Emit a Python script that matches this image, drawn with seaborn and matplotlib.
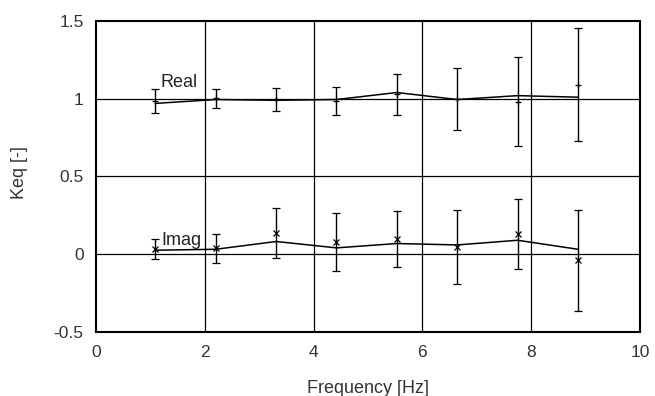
import numpy as np
import pandas as pd
import matplotlib
matplotlib.use("Agg")
import matplotlib.pyplot as plt
import seaborn as sns

# frequencies of the measured points
freq = [1.09, 2.20, 3.31, 4.42, 5.53, 6.64, 7.75, 8.86]

# measured values (markers) with half-width of error bars
real_meas = [0.985, 1.002, 0.997, 0.986, 1.028, 0.999, 0.982, 1.091]
real_err = [0.079, 0.059, 0.075, 0.092, 0.134, 0.199, 0.288, 0.362]
imag_meas = [0.032, 0.037, 0.136, 0.079, 0.097, 0.046, 0.130, -0.040]
imag_err = [0.064, 0.096, 0.160, 0.186, 0.180, 0.239, 0.228, 0.325]

# model lines
real_line = [0.970, 0.995, 0.990, 0.995, 1.040, 0.995, 1.020, 1.010]
imag_line = [0.026, 0.032, 0.082, 0.041, 0.069, 0.060, 0.090, 0.032]

x_ticks = [0, 2, 4, 6, 8, 10]
y_ticks = [-0.5, 0, 0.5, 1, 1.5]
y_tick_labels = ["-0.5", "0", "0.5", "1", "1.5"]

sns.set_style("white")
plt.rcParams['font.family'] = ['Liberation Sans', 'DejaVu Sans']

df_line = pd.DataFrame({
    'freq': freq * 2,
    'keq': real_line + imag_line,
    'part': ['Real'] * len(freq) + ['Imag'] * len(freq),
})

fig = plt.figure(figsize=(6.55, 3.96), dpi=100)
ax = fig.add_axes([0.1466, 0.1616, 0.8305, 0.7854])

# grid
for gx in [2, 4, 6, 8]:
    ax.axvline(gx, color='black', lw=0.9, zorder=1)
for gy in [0, 0.5, 1]:
    ax.axhline(gy, color='black', lw=0.9, zorder=1)

sns.lineplot(data=df_line, x='freq', y='keq', units='part', estimator=None,
             color='black', lw=1.1, ax=ax, zorder=3, legend=False)

ax.errorbar(freq, real_meas, yerr=real_err, fmt='+', color='black', ms=5,
            mew=0.9, elinewidth=1.0, capsize=3, capthick=1.0, zorder=4)
ax.errorbar(freq, imag_meas, yerr=imag_err, fmt='x', color='black', ms=4,
            mew=0.9, elinewidth=1.0, capsize=3, capthick=1.0, zorder=4)

ax.text(1.19, 1.074, 'Real', fontsize=13, color='#222222', va='baseline')
ax.text(1.21, 0.058, 'Imag', fontsize=13, color='#222222', va='baseline')

ax.set_xlim(0, 10)
ax.set_ylim(-0.5, 1.5)
ax.set_xticks(x_ticks)
ax.set_yticks(y_ticks)
ax.set_yticklabels(y_tick_labels)
ax.tick_params(direction='in', length=4, labelsize=12.5, colors='black',
               labelcolor='#333333', pad=9)
ax.set_xlabel('Frequency [Hz]', fontsize=13, color='#333333', va='baseline')
ax.xaxis.set_label_coords(0.5, -0.196)
ax.set_ylabel('Keq [-]', fontsize=13, color='#333333')
ax.yaxis.set_label_coords(-0.125, 0.514)
for s in ax.spines.values():
    s.set_color('black')
    s.set_linewidth(1.5)

fig.savefig('out.png', dpi=100)
